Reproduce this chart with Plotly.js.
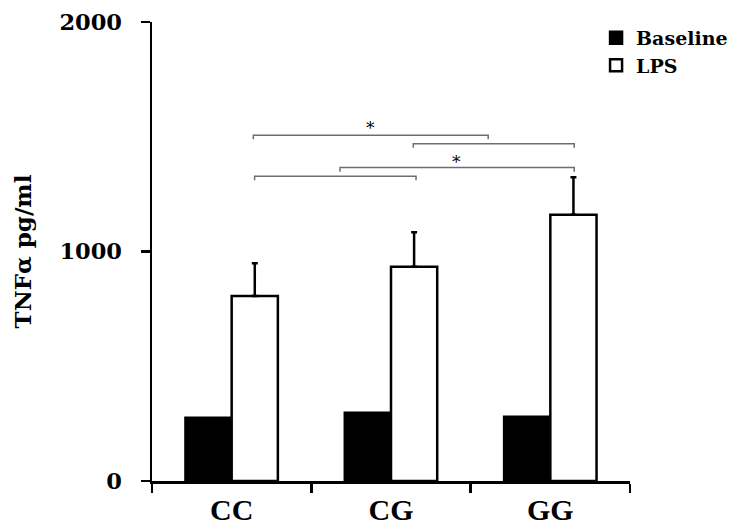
<!DOCTYPE html>
<html>
<head>
<meta charset="utf-8">
<script src="https://cdn.plot.ly/plotly-3.0.1.min.js"></script>
<style>html,body{margin:0;padding:0;background:#fff;}#chart{width:735px;height:525px;}</style>
</head>
<body>
<div id="chart"></div>
<script>
// Data
const genotypes = ["CC", "CG", "GG"];
const baselineValues = [276, 297, 280];
const lpsValues = [806, 934, 1160];
const lpsErrors = [143, 150, 164];
const yTickValues = [0, 1000, 2000];
const yTickLabels = ["0", "1000", "2000"];

// Significance brackets: [x start, x end, y level] in axis units
const brackets = [
  [0.136, 1.61, 1507],
  [1.14, 2.15, 1470],
  [0.68, 2.15, 1366],
  [0.144, 1.157, 1328]
];
const stars = [[0.873, 1536], [1.413, 1391]];

const serif = "DejaVu Serif, serif";

const traces = [
  {
    type: "bar", name: "Baseline", x: genotypes, y: baselineValues,
    marker: {color: "#000000", line: {color: "#000000", width: 2.5}}
  },
  {
    type: "bar", name: "LPS", x: genotypes, y: lpsValues,
    marker: {color: "#ffffff", line: {color: "#000000", width: 2.5}},
    error_y: {type: "data", symmetric: false, array: lpsErrors, arrayminus: [0, 0, 0],
              color: "#000000", thickness: 2.5, width: 3}
  }
];

const shapes = [];
const tickDrop = 18;
brackets.forEach(b => {
  shapes.push({type: "path", xref: "x", yref: "y",
    path: `M${b[0]},${b[2] - tickDrop} L${b[0]},${b[2]} L${b[1]},${b[2]} L${b[1]},${b[2] - tickDrop}`,
    line: {color: "#6e6e6e", width: 1.5}});
});

const annotations = stars.map(s => ({
  x: s[0], y: s[1], xref: "x", yref: "y", text: "*", showarrow: false,
  font: {family: serif, size: 17, color: "#000000"}
}));

const layout = {
  width: 735, height: 525,
  margin: {l: 152, r: 105, t: 22, b: 44, autoexpand: false},
  paper_bgcolor: "#ffffff", plot_bgcolor: "#ffffff",
  barmode: "group", bargap: 0.42, bargroupgap: 0,
  showlegend: true,
  legend: {x: 0.929, y: 1.007, xanchor: "left", yanchor: "top",
           font: {family: serif, size: 19, color: "#000000", weight: "bold"},
           bgcolor: "rgba(0,0,0,0)", traceorder: "normal"},
  xaxis: {
    type: "category", range: [-0.5, 2.5], showline: true, linecolor: "#000000", linewidth: 2.5,
    ticks: "outside", tickson: "boundaries", ticklen: 9, tickwidth: 2.5, tickcolor: "#000000",
    showgrid: false, zeroline: false, fixedrange: true, automargin: false,
    tickfont: {family: "Liberation Serif, serif", size: 30, color: "#000000", weight: "bold"}
  },
  yaxis: {
    range: [0, 2000], showline: true, linecolor: "#000000", linewidth: 2.5,
    ticks: "outside", ticklen: 9, tickwidth: 2.5, tickcolor: "#000000",
    tickvals: yTickValues, ticktext: yTickLabels, ticklabelstandoff: 14,
    showgrid: false, zeroline: false, automargin: false,
    tickfont: {family: serif, size: 22.5, color: "#000000", weight: "bold"},
    title: {text: "TNFα pg/ml", standoff: 22,
            font: {family: serif, size: 23, color: "#000000", weight: "bold"}}
  },
  shapes: shapes,
  annotations: annotations
};

Plotly.newPlot("chart", traces, layout, {staticPlot: true, displayModeBar: false});
</script>
</body>
</html>
